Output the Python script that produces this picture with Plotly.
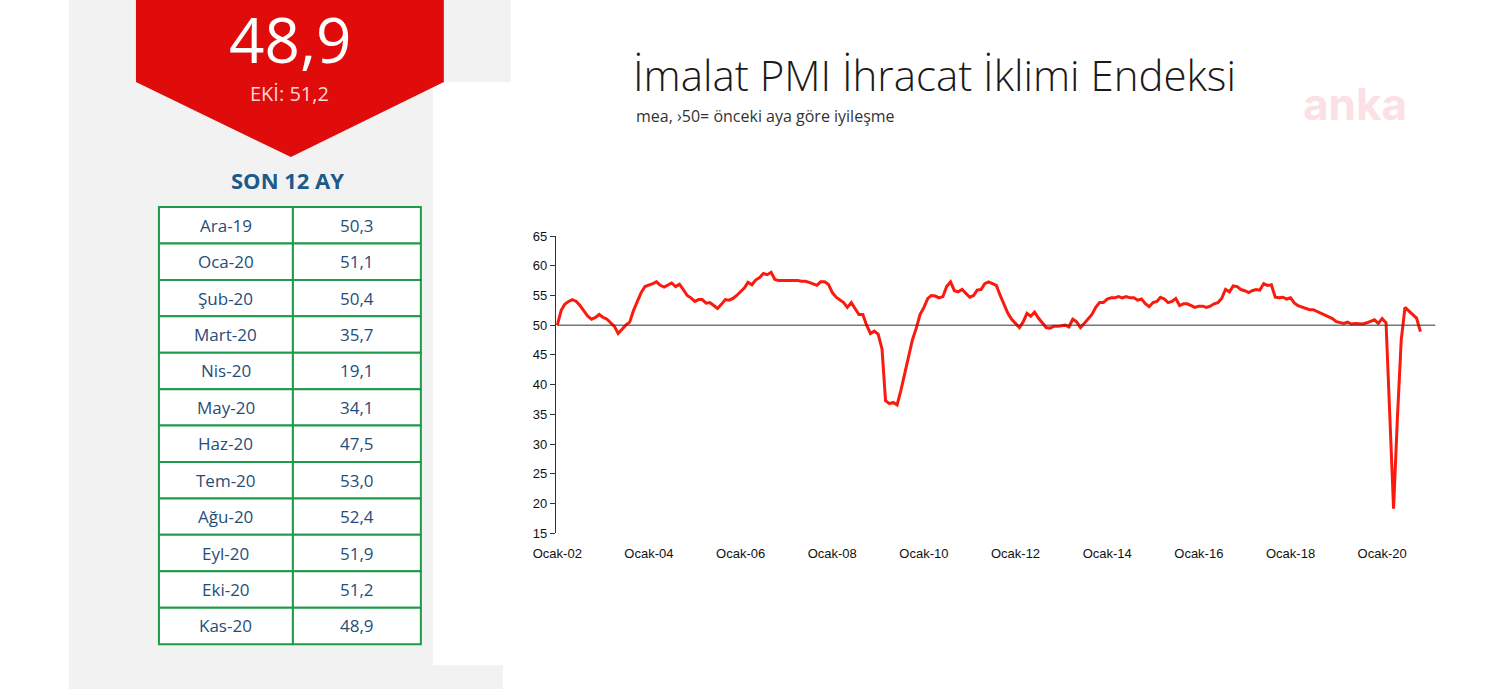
import plotly.graph_objects as go
import pandas as pd

W, H = 1497, 689

pmi = [
 50, 52.5, 53.5, 54, 54.3, 54, 53.3, 52.5, 51.5, 51, 51.3, 51.8,
 51.3, 51, 50.5, 49.8, 48.6, 49.3, 50, 50.5, 52.5, 54, 55.5, 56.5,
 56.7, 57, 57.3, 56.7, 56.4, 56.8, 57.1, 56.5, 56.9, 56, 55, 54.6,
 54, 54.3, 54.3, 53.7, 53.8, 53.3, 52.8, 53.5, 54.3, 54.2, 54.5, 55,
 55.6, 56.3, 57.2, 56.8, 57.6, 58, 58.7, 58.5, 58.9, 57.7, 57.5, 57.5,
 57.5, 57.5, 57.6, 57.5, 57.4, 57.4, 57.2, 57, 56.7, 57.3, 57.3, 56.9,
 55.5, 54.7, 54.3, 53.8, 53, 53.8, 52.8, 51.8, 51.8, 50, 48.6, 49,
 48.5, 46, 37.3, 36.8, 37, 36.6, 39, 42, 45, 47.5, 49.5, 51.8,
 53, 54.5, 55, 54.9, 54.6, 54.8, 56.5, 57.3, 55.8, 55.6, 56, 55.3,
 54.7, 55, 55.9, 56, 57, 57.3, 57, 56.7, 55, 53.5, 52, 51,
 50.3, 49.6, 50.5, 52, 51.5, 52.2, 51.2, 50.3, 49.6, 49.5, 49.8, 49.8,
 49.9, 50, 49.7, 51, 50.6, 49.6, 50.3, 51, 51.8, 53, 53.8, 53.8,
 54.4, 54.6, 54.6, 54.8, 54.6, 54.8, 54.6, 54.6, 54.2, 54.4, 53.6, 53.1,
 53.8, 54, 54.7, 54.4, 53.8, 54, 54.5, 53.3, 53.6, 53.6, 53.3, 53,
 53.2, 53.2, 53, 53.2, 53.6, 53.8, 54.5, 56, 55.6, 56.6, 56.5, 56,
 55.8, 55.5, 55.8, 56, 55.9, 57, 56.7, 56.8, 54.7, 54.6, 54.7, 54.4,
 54.6, 53.7, 53.3, 53.1, 52.8, 52.6, 52.6, 52.3, 52, 51.8, 51.5, 51.1,
 50.6, 50.4, 50.3, 50.5, 50.2, 50.3, 50.3, 50.2, 50.4, 50.7, 50.9, 50.3,
 51.1, 50.4, 35.7, 19.1, 34.1, 47.5, 53.0, 52.4, 51.9, 51.2, 48.9,
]
dates = pd.date_range("2002-01-01", periods=len(pmi), freq="MS")

tick_vals = [f"{y}-01-01" for y in range(2002, 2021, 2)]
tick_text = [f"Ocak-{y % 100:02d}" for y in range(2002, 2021, 2)]

table_months = ["Ara-19", "Oca-20", "Şub-20", "Mart-20", "Nis-20", "May-20",
                "Haz-20", "Tem-20", "Ağu-20", "Eyl-20", "Eki-20", "Kas-20"]
table_values = ["50,3", "51,1", "50,4", "35,7", "19,1", "34,1",
                "47,5", "53,0", "52,4", "51,9", "51,2", "48,9"]

# compensate for the observed offset/scale of the rendered page
def px(x): return ((x - 22) / 0.985) / W
def py(y): return 1 - ((y - 7) / 0.978) / H

fig = go.Figure()
fig.add_trace(go.Scatter(x=dates, y=pmi, mode="lines",
                         line=dict(color="#fa1a0e", width=3), hoverinfo="skip"))

shapes = []
shapes.append(dict(type="rect", xref="paper", yref="paper", x0=px(68), x1=px(510), y0=py(700), y1=py(-10),
                   fillcolor="#f2f2f2", line_width=0, layer="below"))
shapes.append(dict(type="rect", xref="paper", yref="paper", x0=px(432), x1=px(512), y0=py(665), y1=py(82),
                   fillcolor="white", line_width=0, layer="below"))
shapes.append(dict(type="rect", xref="paper", yref="paper", x0=px(502), x1=px(512), y0=py(700), y1=py(665),
                   fillcolor="white", line_width=0, layer="below"))
path = (f"M {px(135)},{py(-10)} L {px(443)},{py(-10)} L {px(443)},{py(82)} "
        f"L {px(290)},{py(157)} L {px(135)},{py(82)} Z")
shapes.append(dict(type="path", xref="paper", yref="paper", path=path,
                   fillcolor="#e00b0b", line_width=0, layer="below"))
tx0, tx1, tmid = 158, 420, 292
ty0, ty1 = 207, 644
rh = (ty1 - ty0) / 12
for i in range(12):
    y0 = ty0 + i * rh
    for a, b in ((tx0, tmid), (tmid, tx1)):
        shapes.append(dict(type="rect", xref="paper", yref="paper", x0=px(a), x1=px(b),
                           y0=py(y0 + rh), y1=py(y0), fillcolor="white",
                           line=dict(color="#1f9a4a", width=2)))
shapes.append(dict(type="line", xref="x", yref="y", x0="2002-01-01", x1="2021-03-01", y0=50, y1=50,
                   line=dict(color="#333", width=1)))

def A(text, x, y, size, color, family="Open Sans", xanchor="center", **kw):
    return dict(text=text, x=px(x), y=py(y), xref="paper", yref="paper", showarrow=False,
                xanchor=xanchor, yanchor="middle",
                font=dict(family=family, size=size, color=color, **kw))

ann = [
    A("48,9", 289, 39, 62, "white"),
    A("EKİ: 51,2", 289, 93, 20, "#ffd6d6"),
    A("<b>SON 12 AY</b>", 287, 180, 22, "#1c5a8a"),
]
for i, (m, v) in enumerate(zip(table_months, table_values)):
    yc = ty0 + (i + 0.5) * rh
    ann.append(A(m, (tx0 + tmid) / 2, yc, 17, "#1f4e79"))
    ann.append(A(v, (tmid + tx1) / 2, yc, 17, "#1f4e79"))
ann.append(A("İmalat PMI İhracat İklimi Endeksi", 630, 74, 42, "#1a1a1a", xanchor="left", weight=300))
ann.append(A("mea, ›50= önceki aya göre iyileşme", 633, 116, 16, "#333", xanchor="left"))
ann.append(A("<b>anka</b>", 1354, 104, 44, "#fbe0e4", family="Inter"))

fig.update_layout(
    autosize=True, margin=dict(l=0, r=0, t=0, b=0),
    paper_bgcolor="white", plot_bgcolor="rgba(0,0,0,0)", showlegend=False,
    shapes=shapes, annotations=ann,
    xaxis=dict(domain=[px(555), px(1435)], range=["2001-12-20", "2021-03-01"],
               tickvals=tick_vals, ticktext=tick_text, showgrid=False, showline=False,
               zeroline=False, ticks="outside", ticklen=8, tickcolor="rgba(0,0,0,0)",
               tickfont=dict(family="Arial", size=13, color="#111")),
    yaxis=dict(domain=[py(533), py(236)], range=[15, 65], dtick=5, showgrid=False,
               showline=True, linecolor="#333", linewidth=1, ticks="outside", ticklen=5,
               tickcolor="#333", zeroline=False, tickfont=dict(family="Arial", size=13, color="#111")),
)
fig.write_html("out.html", default_width="100vw", default_height="100vh",
               config={"displayModeBar": False, "responsive": True},
               post_script="document.body.style.margin='0';document.body.style.overflow='hidden';")
